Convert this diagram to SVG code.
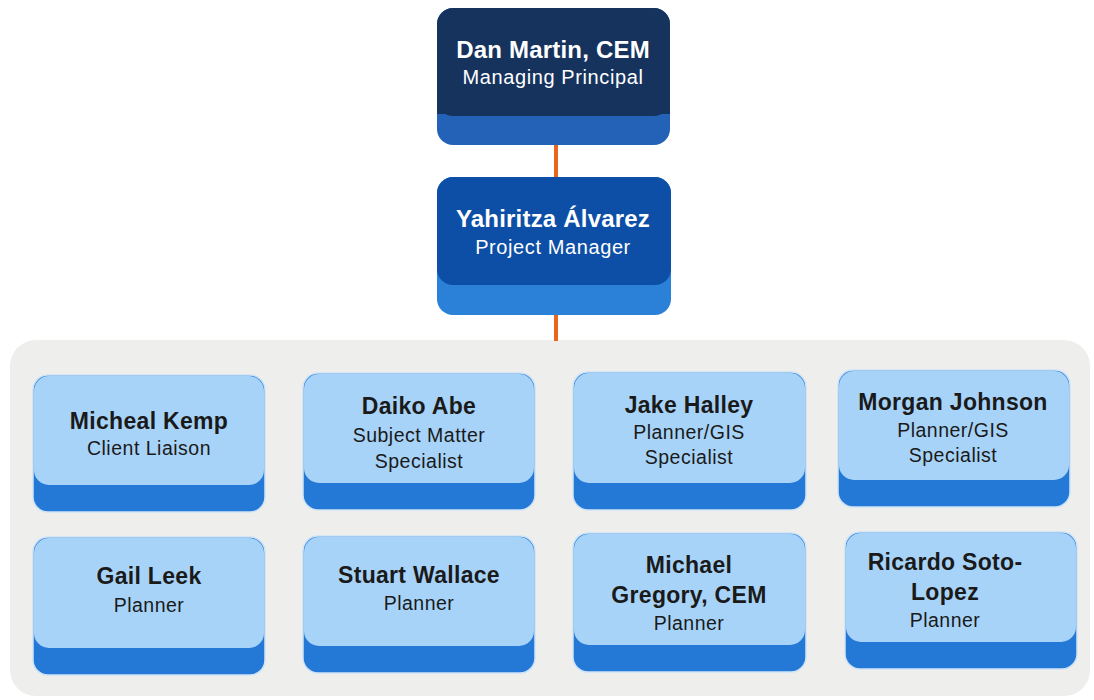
<svg xmlns="http://www.w3.org/2000/svg" width="1094" height="700" viewBox="0 0 1094 700">
<style>
.nm{font-family:"Liberation Sans",Arial,sans-serif;font-weight:bold;font-size:23px;letter-spacing:0.3px;fill:#1a1a1a;text-anchor:middle}
.rl{font-family:"Liberation Sans",Arial,sans-serif;font-size:19.5px;letter-spacing:0.5px;fill:#1a1a1a;text-anchor:middle}
.wn{font-family:"Liberation Sans",Arial,sans-serif;font-weight:bold;font-size:24px;letter-spacing:0.2px;fill:#ffffff;text-anchor:middle}
.wr{font-family:"Liberation Sans",Arial,sans-serif;font-size:20px;letter-spacing:0.6px;fill:#ffffff;text-anchor:middle}
.base{fill:#2479d6;stroke:#cfe3f7;stroke-width:1.5}
.top{fill:#a8d3f8}
.conn{stroke:#e8661e;stroke-width:4;fill:none}
</style>
<rect width="1094" height="700" fill="#ffffff"/>
<rect id="panel" x="10" y="340" width="1080" height="356" rx="26" fill="#eeeeec"/>
<g id="connectors">
<line class="conn" x1="556" y1="145" x2="556" y2="178"/>
<line class="conn" x1="556" y1="315" x2="556" y2="341"/>
</g>
<g id="n-dan">
<rect x="437" y="8" width="233" height="137" rx="16" fill="#2362b6"/>
<rect x="437" y="8" width="233" height="108" rx="16" fill="#16335e"/>
<rect x="437" y="100" width="233" height="14" fill="#16335e"/>
<text class="wn" x="553" y="58">Dan Martin, CEM</text>
<text class="wr" x="553" y="84">Managing Principal</text>
</g>
<g id="n-yahiritza">
<rect x="437" y="177" width="234" height="138" rx="16" fill="#2b80d8"/>
<rect x="437" y="177" width="234" height="108" rx="16" fill="#0d4ea6"/>
<text class="wn" x="553" y="227">Yahiritza Álvarez</text>
<text class="wr" x="553" y="254">Project Manager</text>
</g>
<g id="n-kemp">
<rect class="base" x="33" y="375" width="232" height="137" rx="15"/>
<rect class="top" x="34" y="376" width="230" height="109" rx="15"/>
<text class="nm" x="149" y="429">Micheal Kemp</text>
<text class="rl" x="149" y="455">Client Liaison</text>
</g>
<g id="n-abe">
<rect class="base" x="303" y="373" width="232" height="137" rx="15"/>
<rect class="top" x="304" y="374" width="230" height="109" rx="15"/>
<text class="nm" x="419" y="414">Daiko Abe</text>
<text class="rl" x="419" y="442">Subject Matter</text>
<text class="rl" x="419" y="468">Specialist</text>
</g>
<g id="n-halley">
<rect class="base" x="573" y="372" width="233" height="138" rx="15"/>
<rect class="top" x="574" y="373" width="231" height="110" rx="15"/>
<text class="nm" x="689" y="413">Jake Halley</text>
<text class="rl" x="689" y="439">Planner/GIS</text>
<text class="rl" x="689" y="464">Specialist</text>
</g>
<g id="n-johnson">
<rect class="base" x="838" y="370" width="232" height="137" rx="15"/>
<rect class="top" x="839" y="371" width="230" height="109" rx="15"/>
<text class="nm" x="953" y="410">Morgan Johnson</text>
<text class="rl" x="953" y="437">Planner/GIS</text>
<text class="rl" x="953" y="462">Specialist</text>
</g>
<g id="n-leek">
<rect class="base" x="33" y="537" width="232" height="138" rx="15"/>
<rect class="top" x="34" y="538" width="230" height="110" rx="15"/>
<text class="nm" x="149" y="584">Gail Leek</text>
<text class="rl" x="149" y="612">Planner</text>
</g>
<g id="n-wallace">
<rect class="base" x="303" y="536" width="232" height="137" rx="15"/>
<rect class="top" x="304" y="537" width="230" height="109" rx="15"/>
<text class="nm" x="419" y="583">Stuart Wallace</text>
<text class="rl" x="419" y="610">Planner</text>
</g>
<g id="n-gregory">
<rect class="base" x="573" y="533" width="233" height="139" rx="15"/>
<rect class="top" x="574" y="534" width="231" height="111" rx="15"/>
<text class="nm" x="689" y="573">Michael</text>
<text class="nm" x="689" y="603">Gregory, CEM</text>
<text class="rl" x="689" y="630">Planner</text>
</g>
<g id="n-soto">
<rect class="base" x="845" y="532" width="232" height="137" rx="15"/>
<rect class="top" x="846" y="533" width="230" height="109" rx="15"/>
<text class="nm" x="945" y="570">Ricardo Soto-</text>
<text class="nm" x="945" y="600">Lopez</text>
<text class="rl" x="945" y="627">Planner</text>
</g>
</svg>
